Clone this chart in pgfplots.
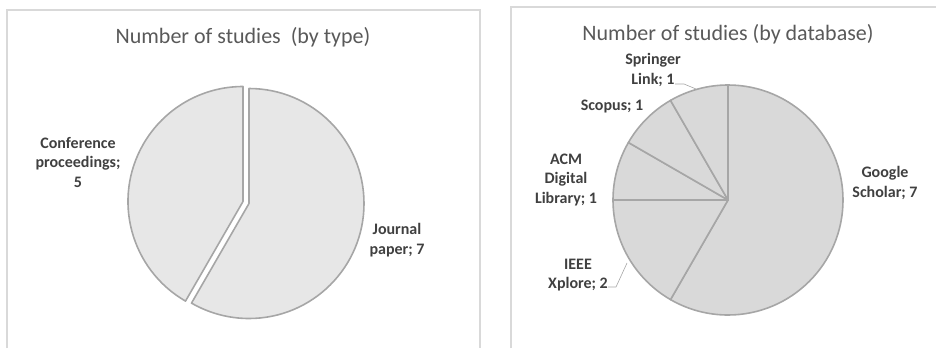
\documentclass[border=0pt]{standalone}
\usepackage{pgfplots}
\pgfplotsset{compat=1.18}
\usepackage{fontspec}
\setmainfont{Carlito}

\definecolor{frame}{HTML}{D9D9D9}
\definecolor{edge}{HTML}{A6A6A6}
\definecolor{fillA}{HTML}{E7E7E7}
\definecolor{fillB}{HTML}{D9D9D9}
\definecolor{titlegrey}{HTML}{595959}
\definecolor{labelgrey}{HTML}{404040}

\tikzset{
  lbl/.style={text=labelgrey, font=\fontsize{16}{19.5}\selectfont\bfseries, align=center},
  ttl/.style={text=titlegrey, font=\fontsize{22}{26}\selectfont},
}

% slice: centre x, centre y, first count, last count, total, fill colour
\newcommand{\slice}[6]{%
  \filldraw[fill=#6, draw=edge, line width=1.6pt, line join=round]
    (axis cs:#1,#2) -- ++({90-360*#3/#5}:115pt)
    arc[start angle={90-360*#3/#5}, end angle={90-360*#4/#5}, radius=115pt]
    -- cycle;}

\begin{document}
\begin{tikzpicture}
\begin{axis}[
    x=1pt, y=1pt, y dir=reverse,
    xmin=0, xmax=936, ymin=0, ymax=348,
    scale only axis, hide axis, clip=false,
]
% chart frames
\draw[frame, line width=1.5pt] (axis cs:7,348) -- (axis cs:7,10) -- (axis cs:480,10) -- (axis cs:480,348);
\draw[frame, line width=1.5pt] (axis cs:511,348) -- (axis cs:511,7) -- (axis cs:936,7);

% by type: Journal paper 7, Conference proceedings 5
\slice{249}{203.5}{0}{7}{12}{fillA}
\slice{243}{201.5}{7}{12}{12}{fillA}
\node[ttl] at (axis cs:243,37) {Number of studies\ \ (by type)};
\node[lbl] at (axis cs:78,162) {Conference\\proceedings;\\5};
\node[lbl] at (axis cs:397,240) {Journal\\paper; 7};

% by database: Google Scholar 7, IEEE Xplore 2, ACM 1, Scopus 1, Springer 1
\slice{728}{200}{0}{7}{12}{fillB}
\slice{728}{200}{7}{9}{12}{fillB}
\slice{728}{200}{9}{10}{12}{fillB}
\slice{728}{200}{10}{11}{12}{fillB}
\slice{728}{200}{11}{12}{12}{fillB}
\node[ttl] at (axis cs:728,34) {Number of studies (by database)};
\node[lbl] at (axis cs:653,70) {Springer\\Link; 1};
\node[lbl] at (axis cs:612,107) {Scopus; 1};
\node[lbl] at (axis cs:566,180) {ACM\\Digital\\Library; 1};
\node[lbl] at (axis cs:578,275) {IEEE\\Xplore; 2};
\node[lbl] at (axis cs:885,183) {Google\\Scholar; 7};
\draw[edge, line width=0.6pt] (axis cs:675,84) -- (axis cs:684,84) -- (axis cs:696,89);
\draw[edge, line width=0.6pt] (axis cs:608,287) -- (axis cs:616,287) -- (axis cs:627,263);
\end{axis}
\pgfresetboundingbox
\path (0,0) rectangle (936pt,348pt);
\end{tikzpicture}
\end{document}
